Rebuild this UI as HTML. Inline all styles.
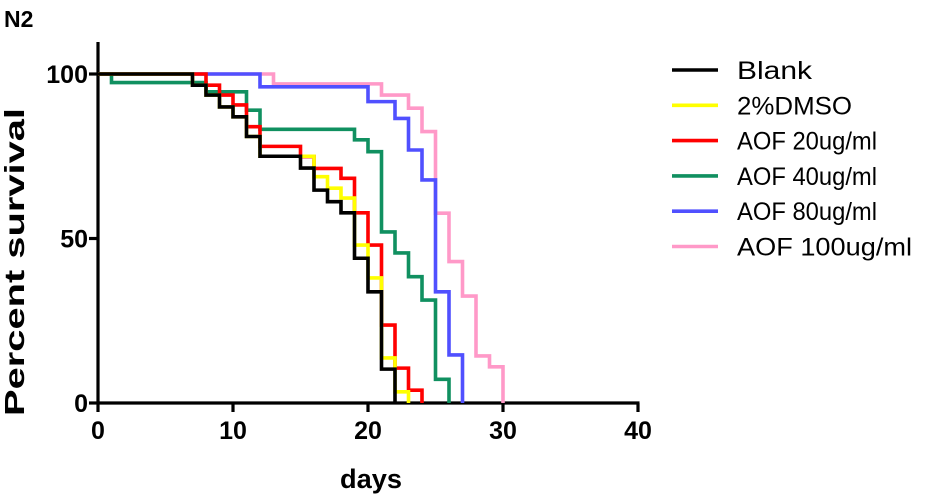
<!DOCTYPE html>
<html><head><meta charset="utf-8"><style>
body{margin:0;background:#fff;}
svg{display:block;font-family:"Liberation Sans",Arial,sans-serif;}
</style></head><body>
<svg id="chart" width="926" height="498" viewBox="0 0 926 498">
<text x="4" y="27" font-size="23" font-weight="bold">N2</text>
<text transform="translate(24,262) rotate(-90)" text-anchor="middle" font-size="28" font-weight="bold" textLength="308" lengthAdjust="spacingAndGlyphs">Percent survival</text>
<text x="371" y="488" text-anchor="middle" font-size="27" font-weight="bold" textLength="62" lengthAdjust="spacingAndGlyphs">days</text>
<g id="axes"></g>
<g id="series"></g>
<g id="legend"></g>
</svg>
<script>
const xTicks=[0,10,20,30,40];
const yTicks=[0,50,100];
const seriesNames=["Blank","2%DMSO","AOF 20ug/ml","AOF 40ug/ml","AOF 80ug/ml","AOF 100ug/ml"];
const seriesColors=["#000000","#ffff00","#ff0000","#109060","#5050ff","#ff99c8"];
const legendWidths=[75,115,140,140,140,175];
const blankDays=[0,7,8,9,10,11,12,15,16,17,18,19,20,21,22];
const blankVals=[100,96.6,93.6,90,87,81,75,71.4,64.7,61.2,57.8,44,33.8,10.3,0];
const dmsoDays=[0,7,8,9,10,11,12,16,17,18,19,20,21,22,23];
const dmsoVals=[100,96.6,93.6,90,87,81,75,68.8,65.3,62.3,48,38,13.7,3.4,0];
const aof20Days=[0,8,9,10,11,12,15,16,18,19,20,21,22,23,24];
const aof20Vals=[100,96.6,93.6,90.6,84,78,74.9,71.3,68.3,57.8,48,23.7,10.6,3.9,0];
const aof40Days=[0,1,8,11,12,19,20,21,22,23,24,25,26];
const aof40Vals=[100,97.4,94.6,89,83.2,80,76.4,52,45.6,38.4,31.3,7.2,0];
const aof80Days=[0,12,20,22,23,24,25,26,27];
const aof80Vals=[100,96.1,91.6,86.5,76.9,67.8,33.8,14.6,0];
const aof100Days=[0,13,21,23,24,25,26,27,28,29,30];
const aof100Vals=[100,97,93.6,89.6,82.5,57.7,43,32.5,14.3,11,0];
const allDays=[blankDays,dmsoDays,aof20Days,aof40Days,aof80Days,aof100Days];
const allVals=[blankVals,dmsoVals,aof20Vals,aof40Vals,aof80Vals,aof100Vals];

const X0=98,X1=638,Y0=403,Y1=74;
const sx=d=>X0+(X1-X0)*d/40;
const sy=v=>Y0-(Y0-Y1)*v/100;
const NS="http://www.w3.org/2000/svg";
function mk(tag,attrs,parent){const e=document.createElementNS(NS,tag);for(const k in attrs)e.setAttribute(k,attrs[k]);parent.appendChild(e);return e;}
const axes=document.getElementById('axes');
let e=mk('line',{x1:X0,y1:42,x2:X0,y2:Y0+1.5,stroke:'#000','stroke-width':3.2},axes);


e=mk('line',{x1:X0-1.5,y1:Y0,x2:X1+1.5,y2:Y0,stroke:'#000','stroke-width':3.2},axes);


yTicks.forEach(v=>{
 let t=mk('line',{x1:X0-9,y1:sy(v),x2:X0,y2:sy(v),stroke:'#000','stroke-width':3.2},axes);
 
 
 let l=mk('text',{x:X0-10,y:sy(v)+9,'text-anchor':'end','font-size':25,'font-weight':'bold'},axes);
 l.textContent=v;
 
 
});
xTicks.forEach(v=>{
 let t=mk('line',{x1:sx(v),y1:Y0,x2:sx(v),y2:Y0+9,stroke:'#000','stroke-width':3.2},axes);
 
 
 let l=mk('text',{x:sx(v),y:Y0+36,'text-anchor':'middle','font-size':25,'font-weight':'bold'},axes);
 l.textContent=v;
 
 
});
const sg=document.getElementById('series');
for(let i=allDays.length-1;i>=0;i--){
 const d=allDays[i],v=allVals[i];
 let p='M'+sx(d[0])+','+sy(v[0]);
 for(let j=1;j<d.length;j++){p+=' H'+sx(d[j])+' V'+sy(v[j]);}
 const path=mk('path',{d:p,fill:'none',stroke:seriesColors[i],'stroke-width':3.6},sg);
 
 
}
const lg=document.getElementById('legend');
seriesNames.forEach((n,i)=>{
 const y=70+i*35.3;
 const g=mk('g',{},lg);
 
 
 mk('line',{x1:672,y1:y,x2:718,y2:y,stroke:seriesColors[i],'stroke-width':3.6},g);
 const t=mk('text',{x:737,y:y+9,'font-size':25,textLength:legendWidths[i],lengthAdjust:'spacingAndGlyphs'},g);
 t.textContent=n;
});
</script>
</body></html>
